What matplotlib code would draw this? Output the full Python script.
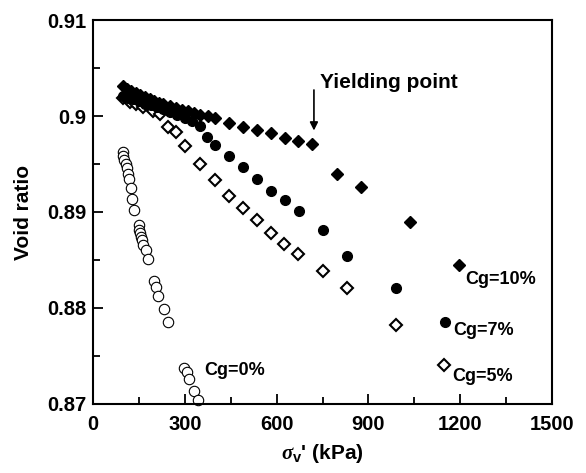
import matplotlib
matplotlib.use("Agg")
import matplotlib.pyplot as plt
from matplotlib.ticker import MultipleLocator, FuncFormatter

plt.rcParams['font.family'] = ['Liberation Sans', 'DejaVu Sans']
plt.rcParams['font.weight'] = 'bold'
plt.rcParams['mathtext.fontset'] = 'custom'
plt.rcParams['mathtext.it'] = 'Liberation Serif:italic'
plt.rcParams['mathtext.rm'] = 'Liberation Serif'
plt.rcParams['mathtext.bf'] = 'Liberation Sans:bold'

# Cg = 10 %
x10 = [97, 110, 125, 140, 155, 170, 185, 200, 215, 230, 250, 270, 290, 310, 330, 350, 375, 399,
       445, 491, 537, 582, 627, 671, 717, 796, 876, 1036, 1195]
e10 = [0.9031, 0.9028, 0.9026, 0.9024, 0.9022, 0.9020, 0.9018, 0.9016, 0.9014, 0.9012, 0.9010,
       0.9008, 0.9006, 0.9005, 0.9003, 0.9001, 0.9000, 0.8998,
       0.8993, 0.8989, 0.8985, 0.8982, 0.8977, 0.8974, 0.8971, 0.8940, 0.8926, 0.8890, 0.8845]

# Cg = 7 %
x7 = [97, 115, 130, 150, 170, 190, 210, 230, 250, 275, 300, 322, 350, 371, 399,
      445, 491, 537, 581, 626, 672, 750, 830, 990, 1150]
e7 = [0.9021, 0.9019, 0.9018, 0.9016, 0.9013, 0.9011, 0.9009, 0.9007, 0.9004, 0.9001, 0.8998,
      0.8995, 0.8990, 0.8978, 0.8970,
      0.8958, 0.8947, 0.8934, 0.8922, 0.8912, 0.8901, 0.8881, 0.8854, 0.8821, 0.8785]

# Cg = 5 %
x5 = [97, 121, 142, 164, 197, 219, 246, 271, 301, 350, 399, 445, 491, 535, 581, 625, 671,
      751, 829, 990, 1148]
e5 = [0.9019, 0.9015, 0.9012, 0.9009, 0.9005, 0.9002, 0.8989, 0.8983, 0.8969, 0.8950, 0.8933,
      0.8917, 0.8904, 0.8892, 0.8878, 0.8867, 0.8856, 0.8839, 0.8821, 0.8782, 0.8741]

# Cg = 0 %
x0 = [97, 99, 102, 107, 110, 113, 118, 123, 128, 135, 149, 151, 154, 157, 159, 164, 172, 179,
      199, 206, 213, 232, 244, 298, 306, 313, 330, 343]
e0 = [0.8962, 0.8958, 0.8954, 0.8950, 0.8946, 0.8940, 0.8934, 0.8925, 0.8914, 0.8902,
      0.8886, 0.8881, 0.8878, 0.8874, 0.8871, 0.8866, 0.8860, 0.8851,
      0.8828, 0.8822, 0.8812, 0.8799, 0.8785, 0.8738, 0.8733, 0.8726, 0.8714, 0.8704]

fig = plt.figure(figsize=(5.86, 4.73), dpi=100)
ax = fig.add_axes([0.1587, 0.1459, 0.7833, 0.8118])

ax.plot(x0, e0, 'o', ms=7.5, mfc='white', mec='black', mew=0.8, clip_on=False)
ax.plot(x5, e5, 'D', ms=6, mfc='white', mec='black', mew=1.5)
ax.plot(x7, e7, 'o', ms=7, mfc='black', mec='black')
ax.plot(x10, e10, 'D', ms=6.5, mfc='black', mec='black')

ax.set_xlim(0, 1500)
ax.set_ylim(0.87, 0.91)
ax.xaxis.set_major_locator(MultipleLocator(300))
ax.xaxis.set_minor_locator(MultipleLocator(150))
ax.yaxis.set_major_locator(MultipleLocator(0.01))
ax.yaxis.set_minor_locator(MultipleLocator(0.005))
ax.yaxis.set_major_formatter(FuncFormatter(lambda v, p: '%g' % round(v, 3)))
ax.tick_params(which='both', direction='in', top=False, right=False, width=1.3, labelsize=14.5)
ax.tick_params(which='major', length=7)
ax.tick_params(which='minor', length=5)
ax.tick_params(axis='x', pad=8)
ax.tick_params(axis='y', pad=5)
for s in ax.spines.values():
    s.set_linewidth(1.5)

ax.set_ylabel('Void ratio', fontsize=15, fontweight='bold', labelpad=10)
ax.set_xlabel(r"$\sigma_{\mathbf{v}}$' (kPa)", fontsize=15, fontweight='bold', labelpad=6)

ax.annotate('', xy=(722, 0.8982), xytext=(722, 0.9030),
            arrowprops=dict(arrowstyle='-|>', color='black', lw=1.2, mutation_scale=12))
ax.text(742, 0.9035, 'Yielding point', fontsize=15, fontweight='bold', va='center')
ax.text(1216, 0.8830, 'Cg=10%', fontsize=13, fontweight='bold', va='center')
ax.text(1176, 0.8777, 'Cg=7%', fontsize=13, fontweight='bold', va='center')
ax.text(1173, 0.8729, 'Cg=5%', fontsize=13, fontweight='bold', va='center')
ax.text(363, 0.87344, 'Cg=0%', fontsize=13, fontweight='bold', va='center')

fig.savefig('out.png', dpi=100)
